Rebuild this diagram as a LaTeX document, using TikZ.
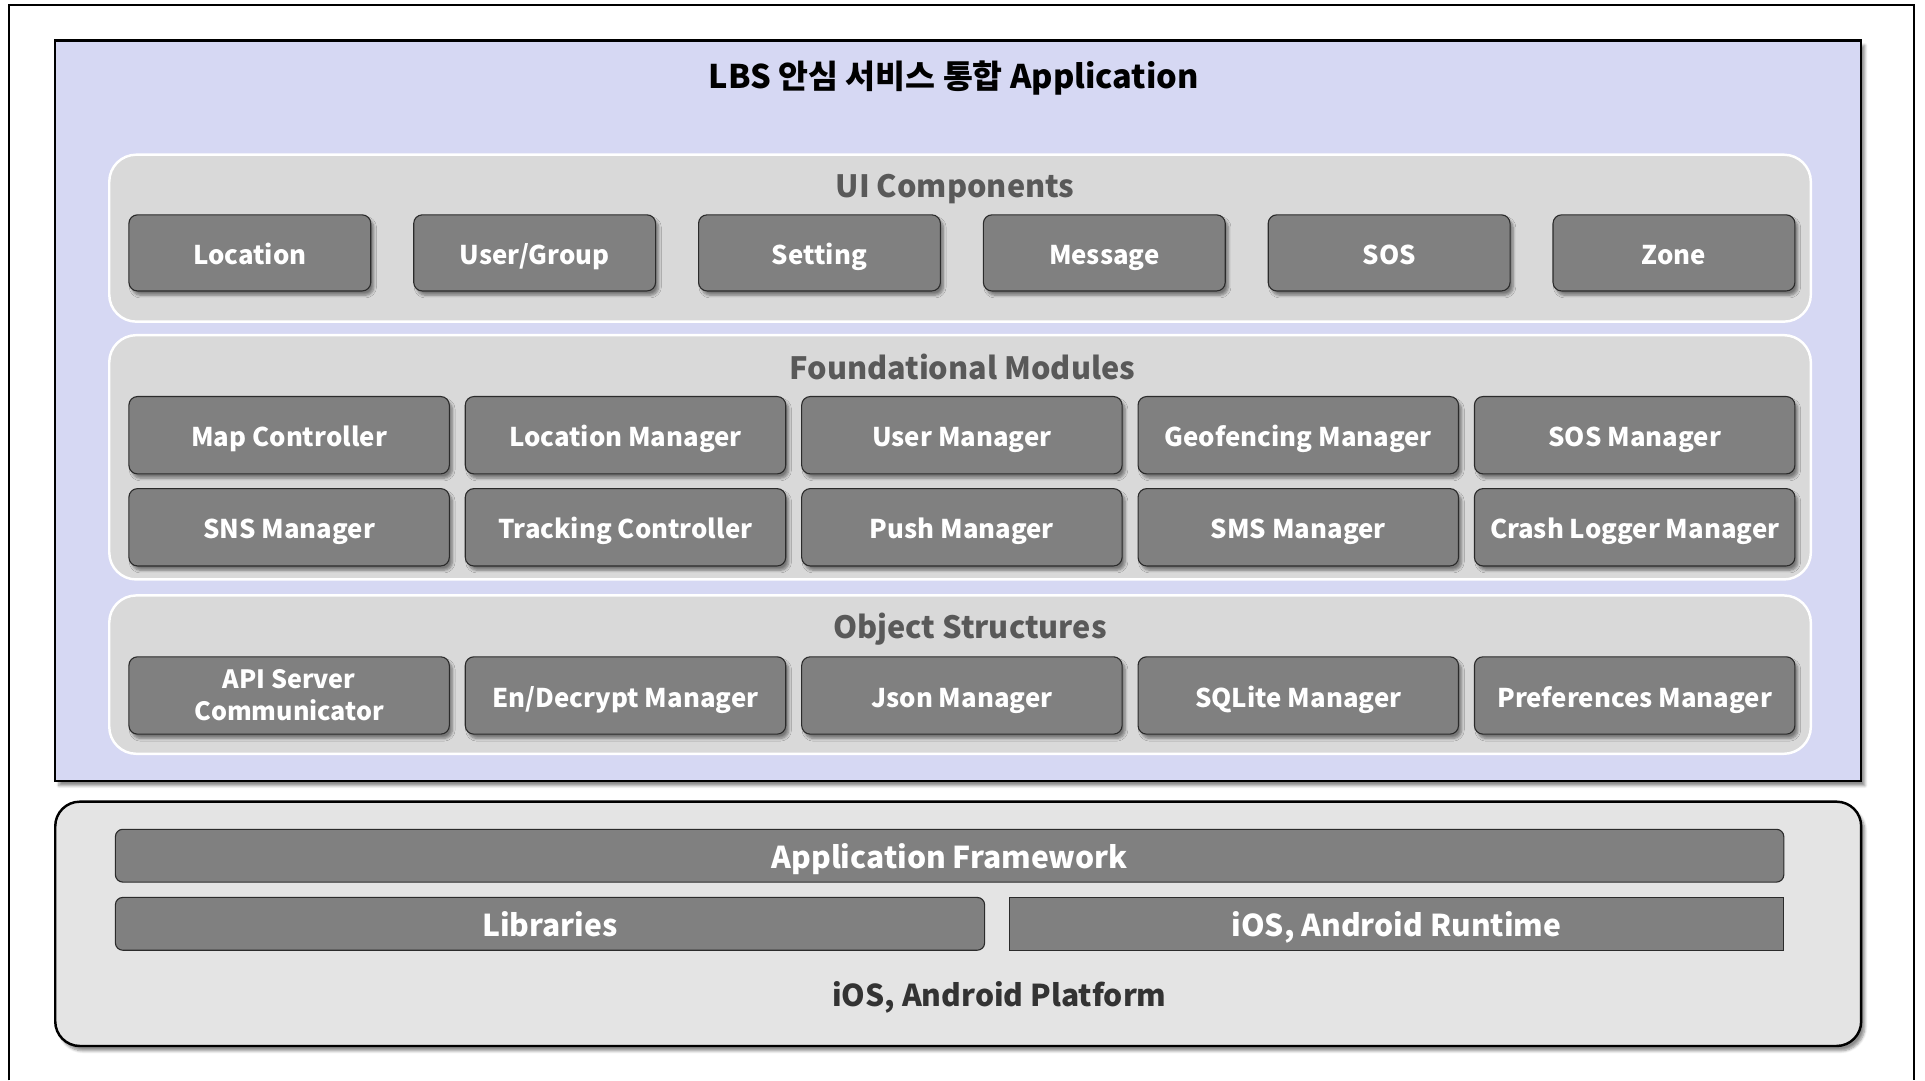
\documentclass[tikz,border=0pt]{standalone}
\usepackage{fontspec}
\setmainfont{Noto Sans CJK KR}
\usetikzlibrary{shadows.blur}

\definecolor{lav}{HTML}{D6D8F3}
\definecolor{grpfill}{HTML}{D9D9D9}
\definecolor{btnfill}{HTML}{808080}
\definecolor{btnline}{HTML}{2B2B2B}
\definecolor{grptext}{HTML}{595959}
\definecolor{platfill}{HTML}{E4E4E4}

\tikzset{
	btn/.style={shape=rectangle,rounded corners=7pt,draw=btnline,line width=0.9pt,fill=btnfill,
		text=white,font=\bfseries\fontsize{21}{23}\selectfont,align=center,inner sep=0pt,
		text height=20pt,text depth=1pt,
		blur shadow={shadow xshift=2.5pt,shadow yshift=-3.5pt,shadow blur steps=6,shadow opacity=45}},
	grp/.style={shape=rectangle,rounded corners=22pt,draw=white,line width=2pt,fill=grpfill,inner sep=0pt},
	grptitle/.style={anchor=base,text=grptext,font=\bfseries\fontsize{25}{28}\selectfont},
	bar/.style={shape=rectangle,draw=btnline,line width=0.9pt,fill=btnfill,text=white,
		font=\bfseries\fontsize{24.5}{27}\selectfont,inner sep=0pt,minimum height=43pt,
		text height=22pt,text depth=1pt},
}

\begin{document}
\begin{tikzpicture}[x=1pt,y=-1pt]
	\useasboundingbox (0,0) rectangle (1568,880);
	\draw[line width=1.5pt] (7,880) -- (7,4) -- (1559,4) -- (1559,880);
	
	% application
	\node[shape=rectangle,draw=black,line width=2pt,fill=lav,inner sep=0pt,minimum width=1471pt,minimum height=603pt,
		blur shadow={shadow xshift=3pt,shadow yshift=-4pt,shadow blur steps=6,shadow opacity=45}] (app) at (780.5,334.5) {};
	\node[anchor=base,font=\bfseries\fontsize{26.5}{29}\selectfont] (title) at (777,72) {LBS 안심 서비스 통합 Application};
	
	% ui components
	\node[grp,minimum width=1386pt,minimum height=136pt] (ui) at (782,194) {};
	\node[grptitle] (uit) at (778,161) {UI Components};
	\node[btn,minimum width=197pt,minimum height=62pt] (u1) at (203.5,206)  {Location};
	\node[btn,minimum width=197pt,minimum height=62pt] (u2) at (435.5,206)  {User/Group};
	\node[btn,minimum width=197pt,minimum height=62pt] (u3) at (667.5,206)  {Setting};
	\node[btn,minimum width=197pt,minimum height=62pt] (u4) at (899.5,206)  {Message};
	\node[btn,minimum width=197pt,minimum height=62pt] (u5) at (1131.5,206) {SOS};
	\node[btn,minimum width=197pt,minimum height=62pt] (u6) at (1363.5,206) {Zone};
	
	% foundational modules
	\node[grp,minimum width=1386pt,minimum height=199pt] (fm) at (782,372.5) {};
	\node[grptitle] (fmt) at (784,309) {Foundational Modules};
	\node[btn,minimum width=261pt,minimum height=63pt] (f1) at (235.5,354.5)  {Map Controller};
	\node[btn,minimum width=261pt,minimum height=63pt] (f2) at (509.5,354.5)  {Location Manager};
	\node[btn,minimum width=261pt,minimum height=63pt] (f3) at (783.5,354.5)  {User Manager};
	\node[btn,minimum width=261pt,minimum height=63pt] (f4) at (1057.5,354.5) {Geofencing Manager};
	\node[btn,minimum width=261pt,minimum height=63pt] (f5) at (1331.5,354.5) {SOS Manager};
	\node[btn,minimum width=261pt,minimum height=63pt] (f6) at (235.5,429.5)  {SNS Manager};
	\node[btn,minimum width=261pt,minimum height=63pt] (f7) at (509.5,429.5)  {Tracking Controller};
	\node[btn,minimum width=261pt,minimum height=63pt] (f8) at (783.5,429.5)  {Push Manager};
	\node[btn,minimum width=261pt,minimum height=63pt] (f9) at (1057.5,429.5) {SMS Manager};
	\node[btn,minimum width=261pt,minimum height=63pt] (f10) at (1331.5,429.5) {Crash Logger Manager};
	
	% object structures
	\node[grp,minimum width=1386pt,minimum height=129pt] (os) at (782,549.5) {};
	\node[grptitle] (ost) at (790,520) {Object Structures};
	\node[btn,minimum width=261pt,minimum height=63pt,font=\bfseries\fontsize{20.5}{26}\selectfont,
		text height=,text depth=] (o1) at (235.5,566.5) {API Server\\Communicator};
	\node[btn,minimum width=261pt,minimum height=63pt] (o2) at (509.5,566.5)  {En/Decrypt Manager};
	\node[btn,minimum width=261pt,minimum height=63pt] (o3) at (783.5,566.5)  {Json Manager};
	\node[btn,minimum width=261pt,minimum height=63pt] (o4) at (1057.5,566.5) {SQLite Manager};
	\node[btn,minimum width=261pt,minimum height=63pt] (o5) at (1331.5,566.5) {Preferences Manager};
	
	% platform
	\node[shape=rectangle,rounded corners=20pt,draw=black,line width=2pt,fill=platfill,inner sep=0pt,
		minimum width=1471pt,minimum height=199pt,
		blur shadow={shadow xshift=3pt,shadow yshift=-4pt,shadow blur steps=6,shadow opacity=45}] (pf) at (780.5,752.5) {};
	\node[bar,rounded corners=6pt,minimum width=1359pt] (fw) at (773.5,697) {Application Framework};
	\node[bar,rounded corners=6pt,minimum width=708pt] (lib) at (448,752.5) {Libraries};
	\node[bar,minimum width=631pt] (rt) at (1137.5,752.5) {iOS, Android Runtime};
	\node[anchor=base,font=\bfseries\fontsize{24.5}{27}\selectfont,text=black!80] (pft) at (814,820) {iOS, Android Platform};
	
\end{tikzpicture}
\end{document}
